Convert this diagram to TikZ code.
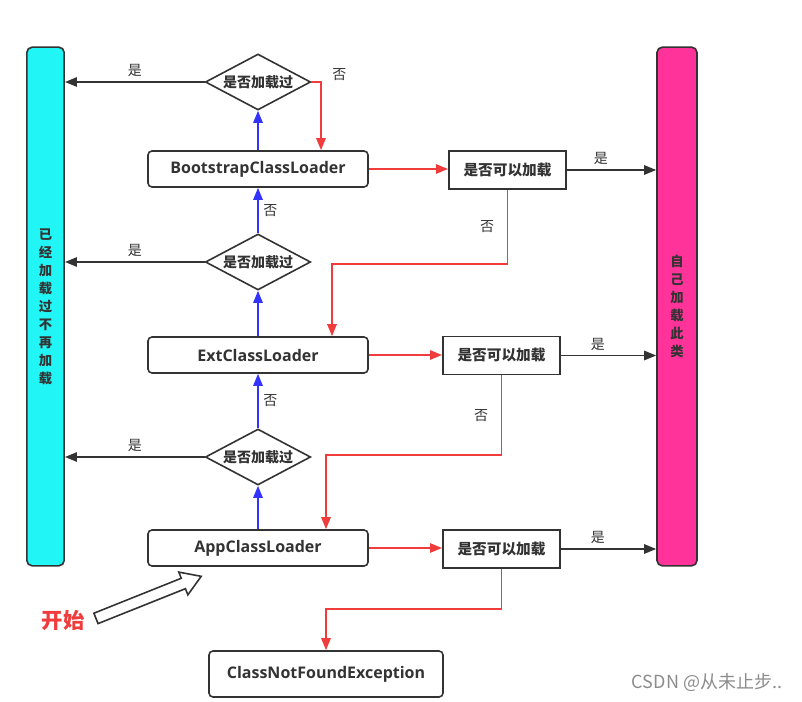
\documentclass[tikz,border=0pt]{standalone}
\usepackage{fontspec}
\setmainfont{Noto Sans CJK SC}
\newfontfamily\latfont{Open Sans}
\usetikzlibrary{arrows.meta,calc,positioning,shapes.geometric,shapes.arrows}
\definecolor{ldcyan}{RGB}{34,245,245}
\definecolor{ldpink}{RGB}{255,51,153}
\definecolor{ldred}{RGB}{240,60,60}
\definecolor{ldblue}{RGB}{51,51,255}
\definecolor{lddark}{RGB}{51,51,51}

\begin{document}
\begin{tikzpicture}[x=0.75pt,y=-0.75pt,
      loader/.style={rectangle, rounded corners=3pt, draw=lddark, line width=1.2pt, fill=white, minimum width=165pt, minimum height=27pt, font=\latfont\bfseries\fontsize{12}{14}\selectfont, text=lddark},
      check/.style={rectangle, draw=lddark, line width=1.2pt, fill=white, minimum width=88pt, minimum height=28.5pt, font=\bfseries\fontsize{11}{13}\selectfont, text=lddark},
      decide/.style={diamond, draw=lddark, line width=1.2pt, aspect=1.9, inner sep=0pt, minimum width=79pt, minimum height=42pt, font=\bfseries\fontsize{10.5}{12}\selectfont, text=lddark},
      bar/.style={rectangle, rounded corners=4pt, draw=lddark, line width=1.2pt, minimum height=389pt, font=\bfseries\fontsize{10}{13.5}\selectfont, align=center, text=lddark},
      lbl/.style={font=\fontsize{10.5}{12}\selectfont, text=lddark},
      yes/.style={-{Triangle[length=9pt,width=7pt]}, line width=1.3pt, color=lddark},
      no/.style={-{Triangle[length=9pt,width=7pt]}, line width=1.3pt, color=ldred},
      up/.style={-{Triangle[length=9pt,width=7pt]}, line width=1.3pt, color=ldblue}
    ]
      \useasboundingbox (0,0) rectangle (802,702);

      % Side bars
      \node[bar, fill=ldcyan, minimum width=28pt] (cached) at (45.5,306.5) {已\\经\\加\\载\\过\\不\\再\\加\\载};
      \node[bar, fill=ldpink, minimum width=30pt] (own) at (677,306.5) {自\\己\\加\\载\\此\\类};

      % Loaders
      \node[loader] (boot) at (258,169) {BootstrapClassLoader};
      \node[loader] (ext) at (258,355) {ExtClassLoader};
      \node[loader] (app) at (258,548) {AppClassLoader};
      \node[loader, minimum width=175.5pt, minimum height=34.5pt] (cnf) at (326,674) {ClassNotFoundException};

      % Decisions
      \node[decide] (d1) at (258,82) {是否加载过};
      \node[decide] (d2) at (258,262) {是否加载过};
      \node[decide] (d3) at (258,457) {是否加载过};
      \node[check] (q1) at (507.5,170) {是否可以加载};
      \node[check] (q2) at (501.5,355.5) {是否可以加载};
      \node[check] (q3) at (501.5,549) {是否可以加载};

      % Start
      \node[font=\bfseries\fontsize{16}{18}\selectfont, text=ldred] (start) at (63,620) {开始};
      \node[single arrow, draw=lddark, line width=1.2pt, fill=white, rotate=21.8, minimum height=85pt, inner sep=3.6pt, single arrow head extend=5pt, single arrow tip angle=65] (startarrow) at (144.5,599) {};

      % Already loaded
      \draw[yes] (d1.west) -- node[lbl, above]{是} (d1.west -| cached.east);
      \draw[yes] (d2.west) -- node[lbl, above]{是} (d2.west -| cached.east);
      \draw[yes] (d3.west) -- node[lbl, above]{是} (d3.west -| cached.east);

      % Delegate upwards
      \draw[up] (app.north) -- (d3.south);
      \draw[up] (d3.north) -- node[lbl, right]{否} (ext.south);
      \draw[up] (ext.north) -- (d2.south);
      \draw[up] (d2.north) -- node[lbl, right]{否} (boot.south);
      \draw[up] (boot.north) -- (d1.south);

      % Try to load, top down
      \draw[no] (d1.east) -| ($(boot.north)+(63,0)$);
      \node[lbl] (d1no) at ($(d1.east)+(28,-7)$) {否};
      \draw[no] (boot.east) -- (boot.east -| q1.west);
      \draw[no] (ext.east) -- (ext.east -| q2.west);
      \draw[no] (app.east) -- (app.east -| q3.west);
      \draw[no] (q1.south) -- node[lbl, left=6pt]{否} ++(0,74) -| ($(ext.north)+(74,0)$);
      \draw[no] (q2.south) -- node[lbl, left=6pt]{否} ++(0,80) -| ($(app.north)+(68,0)$);
      \draw[no] (q3.south) -- ++(0,40) -| (cnf.north);

      % Loaded by itself
      \draw[yes] (q1.east) -- node[lbl, above, xshift=-8pt]{是} (q1.east -| own.west);
      \draw[yes] (q2.east) -- node[lbl, above, xshift=-8pt]{是} (q2.east -| own.west);
      \draw[yes] (q3.east) -- node[lbl, above, xshift=-8pt]{是} (q3.east -| own.west);

      % Watermark
      \node[font=\fontsize{13.5}{15}\selectfont, text=black!45] (mark) at (707,682) {CSDN @从未止步..};
\end{tikzpicture}
\end{document}
